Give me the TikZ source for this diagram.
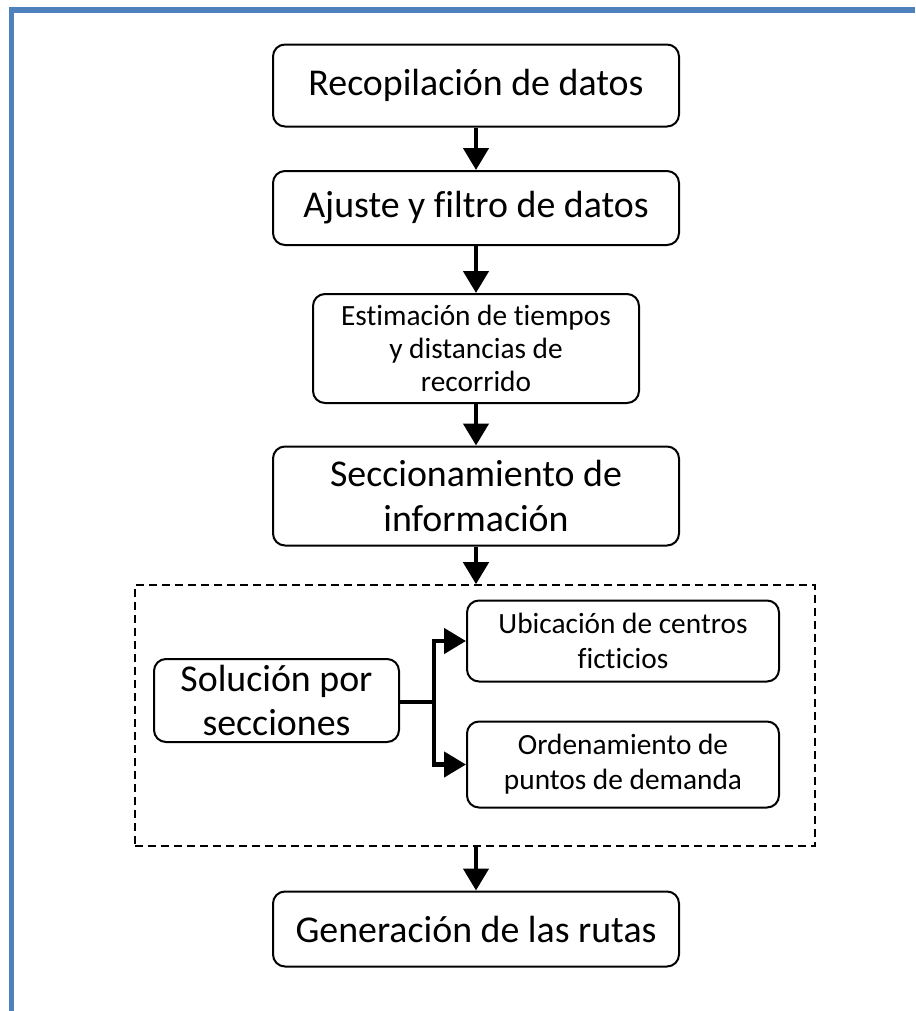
\documentclass[tikz,border=0pt]{standalone}
\usepackage{fontspec}
\setmainfont{Carlito}[Ligatures=NoCommon]
\usetikzlibrary{arrows.meta}
\newdimen\px
\px=0.75pt
\definecolor{frameblue}{RGB}{79,129,189}
\tikzset{
  stepbox/.style={draw=black, line width=2\px, rounded corners=12\px, align=center, inner sep=0pt, fill=white},
  bigtext/.style={font=\fontsize{28.4}{33.5}\selectfont},
  smalltext/.style={font=\fontsize{22}{26}\selectfont},
  arr/.style={line width=3.4pt, -{Triangle[width=18.75pt, length=16.5pt]}},
  grpbox/.style={draw=black, line width=1.6\px, dash pattern=on 6pt off 3.75pt, inner sep=0pt}
}
\begin{document}
\begin{tikzpicture}[x=0.75pt, y=-0.75pt]
\useasboundingbox (0,0) rectangle (915,1011);
\fill[frameblue] (9,7) rectangle (915,13);
\fill[frameblue] (9,7) rectangle (14,1011);

\node[grpbox, minimum width=680\px, minimum height=261\px] (grp) at (475,715.5) {};

\node[stepbox, bigtext, minimum width=406\px, minimum height=82\px] (b1) at (476,85.5) {Recopilación de datos};
\node[stepbox, bigtext, minimum width=406\px, minimum height=74\px] (b2) at (476,208) {Ajuste y filtro de datos};
\node[stepbox, smalltext, font=\fontsize{22}{24.8}\selectfont, minimum width=326\px, minimum height=109\px] (b3) at (476,348.5) {Estimación de tiempos\\y distancias de\\recorrido};
\node[stepbox, bigtext, minimum width=406\px, minimum height=99\px] (b4) at (476,496) {Seccionamiento de\\información};
\node[stepbox, bigtext, minimum width=245\px, minimum height=83\px] (sol) at (276.5,700.5) {Solución por\\secciones};
\node[stepbox, smalltext, minimum width=312\px, minimum height=81\px] (ubi) at (623,641) {Ubicación de centros\\ficticios};
\node[stepbox, smalltext, minimum width=312\px, minimum height=86\px] (ord) at (623,764.5) {Ordenamiento de\\puntos de demanda};
\node[stepbox, bigtext, minimum width=406\px, minimum height=75\px] (gen) at (476,929) {Generación de las rutas};

\draw[arr] (b1.south) -- (b2.north);
\draw[arr] (b2.south) -- (b3.north);
\draw[arr] (b3.south) -- (b4.north);
\draw[arr] (b4.south) -- (b4.south |- grp.north);
\draw[arr] (b4.south |- grp.south) -- (gen.north);
\coordinate (junc) at (434,702);
\draw[line width=3.4pt] (sol.east |- junc) -- (junc);
\draw[arr] (junc) |- (ubi.west);
\draw[arr] (junc) |- (ord.west);
\end{tikzpicture}
\end{document}
